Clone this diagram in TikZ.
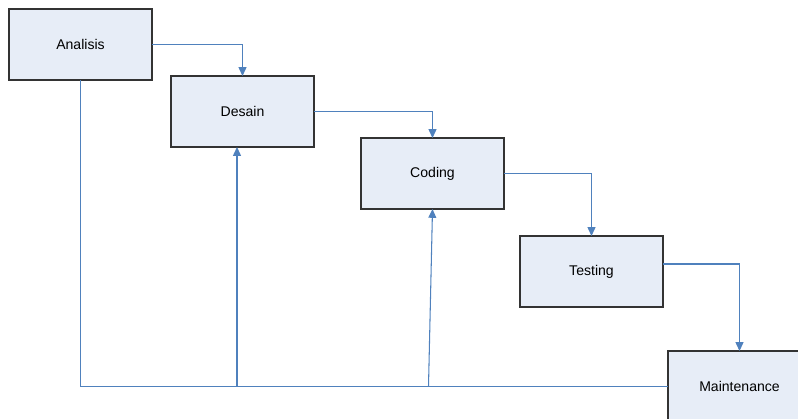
\documentclass[tikz,border=0pt]{standalone}
\usepackage{fontspec}
\setmainfont{Liberation Sans}
\usetikzlibrary{positioning, arrows.meta, calc}

\definecolor{linkblue}{RGB}{79,129,189}
\definecolor{boxfill}{RGB}{231,237,247}

\begin{document}
\begin{tikzpicture}[
        phasebox/.style={rectangle, draw=black!80, line width=0.8pt, fill=boxfill, minimum width=2.86cm, minimum height=1.42cm, align=center, font=\fontsize{8}{9}\selectfont, inner sep=0pt, outer sep=0pt},
        arr/.style={-{Triangle[length=5pt, width=4.5pt]}, line width=0.6pt, linkblue},
        link/.style={line width=0.6pt, linkblue},
    ]
        \useasboundingbox (0,0) rectangle (15.96,-8.36);

        \node[phasebox] (ana) at (1.61,-0.89) {Analisis};
        \node[phasebox, below right=-0.08cm and 0.38cm of ana] (des) {Desain};
        \node[phasebox, below right=-0.18cm and 0.94cm of des] (cod) {Coding};
        \node[phasebox, below right=0.54cm and 0.32cm of cod] (tes) {Testing};
        \node[phasebox, below right=0.88cm and 0.10cm of tes] (mai) {Maintenance};

        % waterfall steps
        \draw[arr] (ana.east) -| (des.north);
        \draw[arr] (des.east) -| (cod.north);
        \draw[arr] (cod.east) -| (tes.north);
        \draw[arr] ([yshift=0.15cm]tes.east) -| (mai.north);

        % feedback line along the bottom
        \draw[link] (ana.south) |- (mai.west);
        \draw[arr] ([xshift=-0.11cm]des.south |- mai.west) -- ([xshift=-0.11cm]des.south);
        \draw[arr] ([xshift=-0.08cm]cod.south |- mai.west) -- (cod.south);
    \end{tikzpicture}
\end{document}
